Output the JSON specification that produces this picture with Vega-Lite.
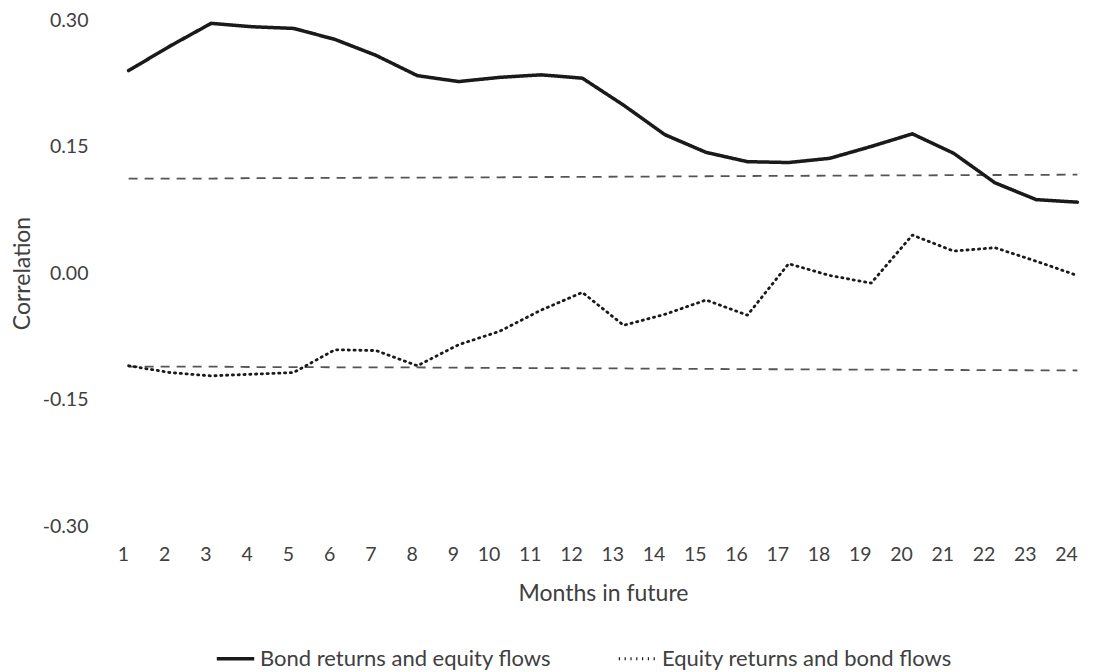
{
  "$schema": "https://vega.github.io/schema/vega-lite/v6.json",
  "width": 990,
  "height": 506,
  "autosize": {"type": "none"},
  "padding": {"left": 108, "top": 20, "right": 18, "bottom": 146},
  "background": "white",
  "config": {
    "view": {"stroke": null},
    "font": "Lato",
    "axis": {"labelFont": "Lato", "titleFont": "Lato", "labelColor": "#404040", "titleColor": "#404040", "titleFontWeight": "normal"},
    "legend": {"labelFont": "Lato", "labelColor": "#404040"}
  },
  "datasets": {
    "series": [
      {"month": 1, "series": "Bond returns and equity flows", "corr": 0.240},
      {"month": 2, "series": "Bond returns and equity flows", "corr": 0.269},
      {"month": 3, "series": "Bond returns and equity flows", "corr": 0.296},
      {"month": 4, "series": "Bond returns and equity flows", "corr": 0.292},
      {"month": 5, "series": "Bond returns and equity flows", "corr": 0.290},
      {"month": 6, "series": "Bond returns and equity flows", "corr": 0.277},
      {"month": 7, "series": "Bond returns and equity flows", "corr": 0.258},
      {"month": 8, "series": "Bond returns and equity flows", "corr": 0.234},
      {"month": 9, "series": "Bond returns and equity flows", "corr": 0.227},
      {"month": 10, "series": "Bond returns and equity flows", "corr": 0.232},
      {"month": 11, "series": "Bond returns and equity flows", "corr": 0.235},
      {"month": 12, "series": "Bond returns and equity flows", "corr": 0.231},
      {"month": 13, "series": "Bond returns and equity flows", "corr": 0.199},
      {"month": 14, "series": "Bond returns and equity flows", "corr": 0.164},
      {"month": 15, "series": "Bond returns and equity flows", "corr": 0.143},
      {"month": 16, "series": "Bond returns and equity flows", "corr": 0.132},
      {"month": 17, "series": "Bond returns and equity flows", "corr": 0.131},
      {"month": 18, "series": "Bond returns and equity flows", "corr": 0.136},
      {"month": 19, "series": "Bond returns and equity flows", "corr": 0.150},
      {"month": 20, "series": "Bond returns and equity flows", "corr": 0.165},
      {"month": 21, "series": "Bond returns and equity flows", "corr": 0.142},
      {"month": 22, "series": "Bond returns and equity flows", "corr": 0.107},
      {"month": 23, "series": "Bond returns and equity flows", "corr": 0.087},
      {"month": 24, "series": "Bond returns and equity flows", "corr": 0.084},
      {"month": 1, "series": "Equity returns and bond flows", "corr": -0.110},
      {"month": 2, "series": "Equity returns and bond flows", "corr": -0.118},
      {"month": 3, "series": "Equity returns and bond flows", "corr": -0.122},
      {"month": 4, "series": "Equity returns and bond flows", "corr": -0.120},
      {"month": 5, "series": "Equity returns and bond flows", "corr": -0.118},
      {"month": 6, "series": "Equity returns and bond flows", "corr": -0.091},
      {"month": 7, "series": "Equity returns and bond flows", "corr": -0.092},
      {"month": 8, "series": "Equity returns and bond flows", "corr": -0.110},
      {"month": 9, "series": "Equity returns and bond flows", "corr": -0.085},
      {"month": 10, "series": "Equity returns and bond flows", "corr": -0.069},
      {"month": 11, "series": "Equity returns and bond flows", "corr": -0.044},
      {"month": 12, "series": "Equity returns and bond flows", "corr": -0.023},
      {"month": 13, "series": "Equity returns and bond flows", "corr": -0.062},
      {"month": 14, "series": "Equity returns and bond flows", "corr": -0.049},
      {"month": 15, "series": "Equity returns and bond flows", "corr": -0.032},
      {"month": 16, "series": "Equity returns and bond flows", "corr": -0.050},
      {"month": 17, "series": "Equity returns and bond flows", "corr": 0.011},
      {"month": 18, "series": "Equity returns and bond flows", "corr": -0.003},
      {"month": 19, "series": "Equity returns and bond flows", "corr": -0.012},
      {"month": 20, "series": "Equity returns and bond flows", "corr": 0.045},
      {"month": 21, "series": "Equity returns and bond flows", "corr": 0.026},
      {"month": 22, "series": "Equity returns and bond flows", "corr": 0.030},
      {"month": 23, "series": "Equity returns and bond flows", "corr": 0.014},
      {"month": 24, "series": "Equity returns and bond flows", "corr": -0.003}
    ],
    "bounds": [
      {"month": 1, "upper": 0.112, "lower": -0.111},
      {"month": 2, "upper": 0.112, "lower": -0.111},
      {"month": 3, "upper": 0.112, "lower": -0.111},
      {"month": 4, "upper": 0.1125, "lower": -0.1115},
      {"month": 5, "upper": 0.1125, "lower": -0.1115},
      {"month": 6, "upper": 0.1128, "lower": -0.1118},
      {"month": 7, "upper": 0.113, "lower": -0.112},
      {"month": 8, "upper": 0.113, "lower": -0.112},
      {"month": 9, "upper": 0.1133, "lower": -0.1123},
      {"month": 10, "upper": 0.1135, "lower": -0.1125},
      {"month": 11, "upper": 0.1138, "lower": -0.1128},
      {"month": 12, "upper": 0.114, "lower": -0.113},
      {"month": 13, "upper": 0.1142, "lower": -0.1132},
      {"month": 14, "upper": 0.1145, "lower": -0.1135},
      {"month": 15, "upper": 0.1147, "lower": -0.1137},
      {"month": 16, "upper": 0.115, "lower": -0.114},
      {"month": 17, "upper": 0.1152, "lower": -0.1142},
      {"month": 18, "upper": 0.1154, "lower": -0.1144},
      {"month": 19, "upper": 0.1156, "lower": -0.1146},
      {"month": 20, "upper": 0.1158, "lower": -0.1148},
      {"month": 21, "upper": 0.116, "lower": -0.115},
      {"month": 22, "upper": 0.1162, "lower": -0.1152},
      {"month": 23, "upper": 0.1164, "lower": -0.1154},
      {"month": 24, "upper": 0.1166, "lower": -0.1156}
    ]
  },
  "layer": [
    {
      "mark": {"type": "rule", "color": "#d0d0d0", "strokeWidth": 1},
      "encoding": {"y": {"datum": 0, "type": "quantitative", "scale": {"domain": [-0.3, 0.3]}}}
    },
    {
      "data": {"name": "bounds"},
      "mark": {"type": "line", "color": "#555555", "strokeWidth": 1.8, "strokeDash": [9, 7]},
      "encoding": {
        "x": {"field": "month", "type": "ordinal"},
        "y": {"field": "upper", "type": "quantitative"}
      }
    },
    {
      "data": {"name": "bounds"},
      "mark": {"type": "line", "color": "#555555", "strokeWidth": 1.8, "strokeDash": [9, 7]},
      "encoding": {
        "x": {"field": "month", "type": "ordinal"},
        "y": {"field": "lower", "type": "quantitative"}
      }
    },
    {
      "data": {"name": "series"},
      "mark": {"type": "line", "color": "#1a1a1a", "strokeCap": "round", "strokeJoin": "round"},
      "encoding": {
        "x": {
          "field": "month", "type": "ordinal", "sort": "ascending",
          "title": "Months in future",
          "axis": {"labelAngle": 0, "domain": false, "ticks": false, "labelPadding": 28, "labelFontSize": 19.5, "titleFontSize": 23, "titlePadding": 19}
        },
        "y": {
          "field": "corr", "type": "quantitative",
          "scale": {"domain": [-0.3, 0.3], "nice": false, "zero": false},
          "title": "Correlation",
          "axis": {"values": [-0.3, -0.15, 0, 0.15, 0.3], "format": ".2f", "labelExpr": "replace(datum.label, '\u2212', '-')", "grid": false, "domain": false, "ticks": false, "labelPadding": 20, "labelFontSize": 19.5, "titleFontSize": 23, "titlePadding": 8}
        },
        "strokeDash": {
          "field": "series", "type": "nominal",
          "scale": {"domain": ["Bond returns and equity flows", "Equity returns and bond flows"], "range": [[1, 0], [1.2, 4.6]]},
          "legend": {
            "title": null, "orient": "none", "direction": "horizontal",
            "legendX": 107, "legendY": 618,
            "symbolType": "stroke", "symbolSize": 1400, "symbolStrokeColor": "#1a1a1a", "symbolStrokeWidth": 3.5,
            "labelFontSize": 22, "labelOffset": 4, "columnPadding": 62, "labelLimit": 500
          }
        },
        "strokeWidth": {
          "field": "series", "type": "nominal",
          "scale": {"domain": ["Bond returns and equity flows", "Equity returns and bond flows"], "range": [3.5, 2.8]},
          "legend": null
        }
      }
    }
  ]
}
